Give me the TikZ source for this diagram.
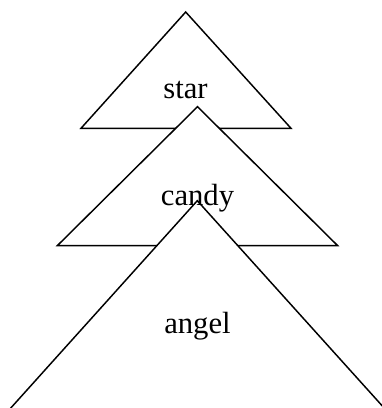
\documentclass[tikz,border=0pt]{standalone}
\usepackage{fontspec}
\setmainfont{Liberation Serif}
\usetikzlibrary{positioning}

\begin{document}
\begin{tikzpicture}[x=0.75pt,y=-0.75pt,
          layer/.style={draw=black,fill=white,line width=1.1pt,line join=miter},
          lbl/.style={font=\fontsize{23}{27}\selectfont,anchor=base,inner sep=0pt}]
        \clip (0,0) rectangle (382,408);
        \useasboundingbox (0,0) rectangle (382,408);
        % star
        \coordinate (startop) at (185.7,12);
        \coordinate (starl)   at (81,128.3);
        \coordinate (starr)   at (291,128.3);
        % candy
        \coordinate (candytop) at (197.5,106.7);
        \coordinate (candyl)   at (57.3,245.7);
        \coordinate (candyr)   at (337.7,245.7);
        % angel
        \coordinate (angeltop) at (197.3,200.7);
        \coordinate (angell)   at (-9,430);
        \coordinate (angelr)   at (404,430);
        \draw[layer] (startop) -- (starl) -- (starr) -- cycle;
        \draw[layer] (candytop) -- (candyl) -- (candyr) -- cycle;
        \draw[layer] (angeltop) -- (angell) -- (angelr) -- cycle;
        \node[lbl] (star)  at (185.5,98)  {star};
        \node[lbl] (candy) at (197.5,205) {candy};
        \node[lbl] (angel) at (197.5,333) {angel};
      \end{tikzpicture}
\end{document}
